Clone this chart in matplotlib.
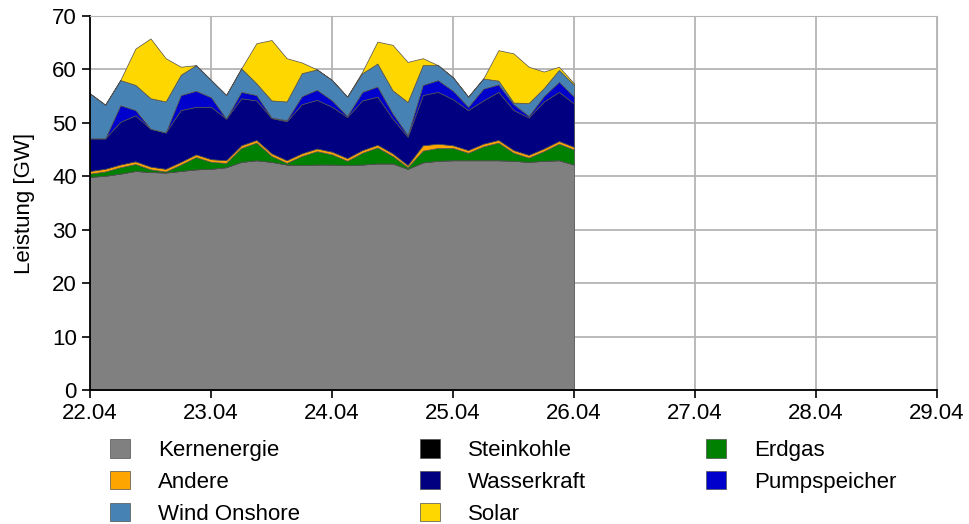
import numpy as np
import pandas as pd
import matplotlib
matplotlib.use('Agg')
import matplotlib.pyplot as plt
import matplotlib.dates as mdates

plt.rcParams['font.family'] = ['Liberation Sans', 'DejaVu Sans']

# 3-hourly values from 22.04 00:00 to 26.04 00:00, in GW
zeit = pd.date_range('2019-04-22', periods=33, freq='3h')

kernenergie = [39.9, 40.1, 40.5, 41.0, 40.8, 40.7, 41.0, 41.3, 41.4,
               41.7, 42.7, 43.0, 42.7, 42.2, 42.1, 42.2, 42.2,
               42.1, 42.2, 42.4, 42.4, 41.4, 42.6, 42.9, 43.0,
               43.0, 43.0, 43.0, 42.9, 42.7, 42.9, 43.0, 42.2]
steinkohle = [0.0, 0.0, 0.0, 0.0, 0.0, 0.0, 0.0, 0.0, 0.0,
              0.0, 0.0, 0.0, 0.0, 0.0, 0.0, 0.0, 0.0,
              0.0, 0.0, 0.0, 0.0, 0.0, 0.0, 0.0, 0.0,
              0.0, 0.0, 0.0, 0.0, 0.0, 0.0, 0.0, 0.0]
erdgas = [0.6, 0.8, 1.2, 1.3, 0.5, 0.2, 1.2, 2.3, 1.3,
          0.8, 2.6, 3.3, 1.1, 0.3, 1.7, 2.5, 1.9,
          0.8, 2.2, 3.0, 1.4, 0.3, 2.2, 2.4, 2.3,
          1.4, 2.6, 3.3, 1.5, 0.8, 1.8, 3.1, 2.8]
andere = [0.5, 0.5, 0.5, 0.5, 0.5, 0.5, 0.5, 0.5, 0.5,
          0.5, 0.5, 0.5, 0.5, 0.5, 0.5, 0.5, 0.5,
          0.5, 0.5, 0.5, 0.5, 0.4, 1.0, 0.8, 0.5,
          0.5, 0.5, 0.5, 0.5, 0.5, 0.5, 0.5, 0.5]
wasserkraft = [6.1, 5.7, 8.0, 8.6, 7.1, 6.8, 9.7, 8.9, 9.8,
               7.8, 8.8, 7.4, 6.6, 7.3, 9.2, 9.1, 8.4,
               7.7, 9.3, 9.0, 6.5, 5.3, 9.4, 9.7, 8.6,
               7.5, 8.1, 9.0, 7.5, 7.0, 8.8, 9.2, 8.1]
pumpspeicher = [0.0, 0.0, 3.1, 1.0, 0.0, 0.0, 2.8, 3.0, 1.8,
                0.0, 1.2, 1.0, 0.1, 0.2, 1.5, 1.9, 1.2,
                0.2, 1.6, 1.9, 1.0, 0.3, 1.9, 2.2, 1.6,
                0.6, 2.2, 1.4, 1.1, 0.3, 1.0, 1.9, 1.3]
wind_onshore = [8.4, 6.3, 4.7, 4.7, 5.7, 5.8, 3.8, 4.8, 3.2,
                4.4, 4.4, 2.2, 3.2, 3.5, 4.3, 3.8, 3.8,
                3.6, 3.5, 4.3, 4.3, 6.2, 3.7, 2.8, 2.5,
                1.9, 1.9, 0.7, 0.3, 2.4, 1.5, 2.2, 2.2]
solar = [0.0, 0.0, 0.0, 6.8, 11.2, 8.1, 1.5, 0.0, 0.0,
         0.0, 0.0, 7.5, 11.3, 8.1, 2.0, 0.0, 0.0,
         0.0, 0.3, 4.1, 8.5, 7.5, 1.3, 0.0, 0.0,
         0.0, 0.0, 5.7, 9.2, 6.8, 3.1, 0.6, 0.3]

namen = ['Kernenergie', 'Steinkohle', 'Erdgas', 'Andere',
         'Wasserkraft', 'Pumpspeicher', 'Wind Onshore', 'Solar']
farben = ['#808080', '#000000', '#008000', '#FFA500',
          '#000080', '#0000CD', '#4682B4', '#FFD700']

fig = plt.figure(figsize=(9.7, 5.24), dpi=100)
ax = fig.add_axes([0.0928, 0.2557, 0.8732, 0.7138])

polys = ax.stackplot(zeit, kernenergie, steinkohle, erdgas, andere,
                     wasserkraft, pumpspeicher, wind_onshore, solar,
                     labels=namen, colors=farben,
                     edgecolor='#505050', linewidth=0.5)

ax.set_xlim(pd.Timestamp('2019-04-22'), pd.Timestamp('2019-04-29'))
ax.set_ylim(0, 70)
ax.set_yticks(np.arange(0, 71, 10))
ax.xaxis.set_major_locator(mdates.DayLocator())
ax.xaxis.set_major_formatter(mdates.DateFormatter('%d.%m'))
ax.tick_params(labelsize=16, direction='out', length=6, width=1.2)
ax.set_ylabel('Leistung [GW]', fontsize=16, labelpad=12)

ax.grid(True, color='#b4b4b4', linewidth=1.3)
ax.set_axisbelow(True)
for s in ['left', 'bottom']:
    ax.spines[s].set_linewidth(1.3)
for s in ['top', 'right']:
    ax.spines[s].set_color('#b4b4b4')

# legend: column-wise order as in the original
reihe = [0, 3, 6, 1, 4, 7, 2, 5]
fig.legend([polys[i] for i in reihe], [namen[i] for i in reihe],
           loc='upper left', bbox_to_anchor=(0.1134, 0.162),
           ncol=3, frameon=False, fontsize=16,
           handlelength=0.9, handleheight=0.9, handletextpad=1.26,
           columnspacing=5.4, labelspacing=0.45,
           borderpad=0, borderaxespad=0)

fig.savefig('out.png', dpi=100)
